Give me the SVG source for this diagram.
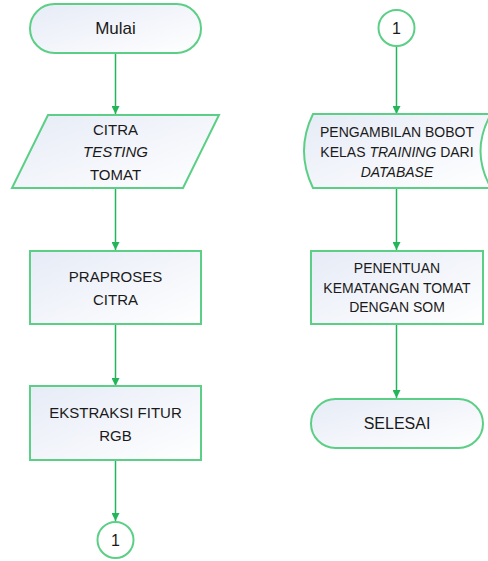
<svg xmlns="http://www.w3.org/2000/svg" width="488" height="561" viewBox="0 0 488 561">
<defs>
<linearGradient id="g" x1="0" y1="0" x2="1" y2="1">
<stop offset="0" stop-color="#e6ebf6"/>
<stop offset="1" stop-color="#ffffff"/>
</linearGradient>
<marker id="ah" viewBox="0 0 10 10" refX="10" refY="5" markerWidth="8" markerHeight="8" markerUnits="userSpaceOnUse" orient="auto">
<path d="M0,0 L10,5 L0,10 Z" fill="#22b55a"/>
</marker>
</defs>
<style>
.s{fill:url(#g);stroke:#5ccf86;stroke-width:2}
.c{fill:#ffffff;stroke:#5ccf86;stroke-width:2}
.t{font-family:"Liberation Sans",Arial,sans-serif;font-size:15px;fill:#1a1a1a;text-anchor:middle;dominant-baseline:central}
.sm{font-size:14px}
.lg{font-size:16px}
.xl{font-size:17px}
.l{stroke:#22b55a;stroke-width:1.5;fill:none;marker-end:url(#ah)}
</style>
<rect width="488" height="561" fill="#ffffff"/>
<g id="connectors">
<line class="l" x1="115.5" y1="53" x2="115.5" y2="114"/>
<line class="l" x1="115.5" y1="188" x2="115.5" y2="250"/>
<line class="l" x1="115.5" y1="324" x2="115.5" y2="386"/>
<line class="l" x1="115.5" y1="460" x2="115.5" y2="521"/>
<line class="l" x1="396.5" y1="46" x2="396.5" y2="114"/>
<line class="l" x1="396.5" y1="188" x2="396.5" y2="250"/>
<line class="l" x1="396.5" y1="324" x2="396.5" y2="398"/>
</g>
<g id="mulai">
<rect class="s" x="30" y="4" width="171" height="49" rx="24.5"/>
<text class="t xl" x="115.5" y="28.5">Mulai</text>
</g>
<g id="citra-testing">
<polygon class="s" points="48,115 219,115 183,188 12,188"/>
<text class="t" x="115.5" y="129">CITRA</text>
<text class="t" x="115.5" y="151" font-style="italic">TESTING</text>
<text class="t" x="115.5" y="174">TOMAT</text>
</g>
<g id="praproses">
<rect class="s" x="30" y="251" width="171" height="73"/>
<text class="t" x="115.5" y="276">PRAPROSES</text>
<text class="t" x="115.5" y="299">CITRA</text>
</g>
<g id="ekstraksi">
<rect class="s" x="30" y="386" width="171" height="74"/>
<text class="t" x="115.5" y="412">EKSTRAKSI FITUR</text>
<text class="t" x="115.5" y="435">RGB</text>
</g>
<g id="conn1-a">
<circle class="c" cx="115.5" cy="540" r="18"/>
<text class="t lg" x="115.5" y="540">1</text>
</g>
<g id="conn1-b">
<circle class="c" cx="396.5" cy="28" r="18"/>
<text class="t lg" x="396.5" y="28">1</text>
</g>
<g id="pengambilan">
<path class="s" d="M313,114 L491,114 Q470,151 491,188 L313,188 Q295,151 313,114 Z"/>
<text class="t sm" x="397" y="132">PENGAMBILAN BOBOT</text>
<text class="t sm" x="397" y="152">KELAS <tspan font-style="italic">TRAINING</tspan> DARI</text>
<text class="t sm" x="397" y="172" font-style="italic">DATABASE</text>
</g>
<g id="penentuan">
<rect class="s" x="311" y="251" width="172" height="73"/>
<text class="t sm" x="397" y="268">PENENTUAN</text>
<text class="t sm" x="397" y="288">KEMATANGAN TOMAT</text>
<text class="t sm" x="397" y="307">DENGAN SOM</text>
</g>
<g id="selesai">
<rect class="s" x="311" y="399" width="172" height="49" rx="24.5"/>
<text class="t lg" x="397" y="423.5">SELESAI</text>
</g>
</svg>
